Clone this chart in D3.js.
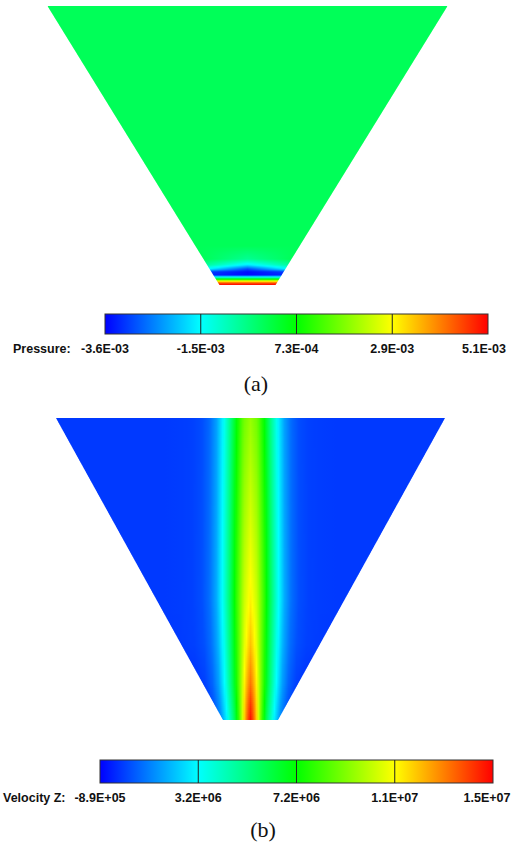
<!DOCTYPE html>
<html>
<head>
<meta charset="utf-8">
<script src="https://cdn.jsdelivr.net/npm/d3@7"></script>
<style>
  body { margin: 0; background: #fff; }
  .lbl { font-family: "Liberation Sans", Arial, sans-serif; font-weight: bold; font-size: 12.5px; fill: #111; }
  .cap { font-family: "Liberation Serif", "Times New Roman", serif; font-size: 22px; fill: #111; }
</style>
</head>
<body>
<script>
// colour map shared by both contour plots (blue -> cyan -> green -> yellow -> red)
const rainbow = ["#0000ff", "#00ffff", "#00ff00", "#ffff00", "#ff0000"]

// (a) pressure
const pressureRange = [-3.6e-3, 5.1e-3]
const pressureTickLabels = ["-3.6E-03", "-1.5E-03", "7.3E-04", "2.9E-03", "5.1E-03"]
// distance above the outlet (fraction of cone height) and pressure there, at wall and on axis
const pressureDepth = [0, 0.007, 0.014, 0.021, 0.029, 0.036, 0.047, 0.057, 0.072, 0.093, 0.14, 1]
const pressureWall = [5.1e-3, 4.4e-3, 2.9e-3, 7e-4, -1.5e-3, -3.3e-3, -3.1e-3, -1.6e-3, -0.6e-3, 0, 0, 0]
const pressureAxis = [5.1e-3, 4.4e-3, 2.9e-3, 7e-4, -1.5e-3, -3.5e-3, -3.5e-3, -3.0e-3, -1.6e-3, -0.5e-3, 0, 0]

// (b) axial velocity
const velocityRange = [-8.9e5, 1.5e7]
const velocityTickLabels = ["-8.9E+05", "3.2E+06", "7.2E+06", "1.1E+07", "1.5E+07"]
// radial position (fraction of top radius) and normalised jet profile
const jetRadius = [0, 0.035, 0.07, 0.105, 0.14, 0.175, 0.21, 0.25, 0.3, 0.4, 1]
const jetShape = [1, 0.93, 0.75, 0.52, 0.32, 0.17, 0.08, 0.03, 0.01, 0, 0]
// narrow fast core on the axis
const coreRadius = [0, 0.015, 0.03, 0.045, 0.06, 0.08, 1]
const coreShape = [1, 0.85, 0.55, 0.28, 0.1, 0, 0]
// height above outlet (fraction) -> jet velocity, core velocity, width factor, background
const jetHeight = [0, 0.05, 0.12, 0.25, 0.4, 0.6, 0.8, 1]
const jetBase = [1.0e7, 1.02e7, 1.05e7, 1.05e7, 1.05e7, 1.02e7, 9.8e6, 9.4e6]
const jetPeak = [1.48e7, 1.42e7, 1.32e7, 1.2e7, 1.12e7, 1.06e7, 1.0e7, 9.4e6]
const jetWidth = [0.88, 0.9, 0.93, 0.96, 1, 1, 1, 1]
const jetBackground = [-6e5, -4e5, -2e5, 0, 0, 0, 0, 0]

const width = 512, height = 845

const svg = d3.select('body').append('svg')
    .attr('width', width)
    .attr('height', height)
const defs = svg.append('defs')

function colorScale(range) {
    const step = (range[1] - range[0]) / 4
    return d3.scaleLinear()
        .domain(d3.range(5).map(i => range[0] + i * step))
        .range(rainbow)
        .clamp(true)
}

// pressure field: value at height z (0 = outlet), blending axis -> wall profile
const pWall = d3.scaleLinear().domain(pressureDepth).range(pressureWall).clamp(true)
const pAxis = d3.scaleLinear().domain(pressureDepth).range(pressureAxis).clamp(true)
function pressureAt(z, off, hw, hwTop) {
    const rel = Math.min(1, Math.abs(off) / hw)
    return pAxis(z) + (pWall(z) - pAxis(z)) * rel
}

// velocity field
const vShape = d3.scaleLinear().domain(jetRadius).range(jetShape).clamp(true)
const vCore = d3.scaleLinear().domain(coreRadius).range(coreShape).clamp(true)
const vBase = d3.scaleLinear().domain(jetHeight).range(jetBase).clamp(true)
const vPeak = d3.scaleLinear().domain(jetHeight).range(jetPeak).clamp(true)
const vWidth = d3.scaleLinear().domain(jetHeight).range(jetWidth).clamp(true)
const vBack = d3.scaleLinear().domain(jetHeight).range(jetBackground).clamp(true)
function velocityAt(z, off, hw, hwTop) {
    const r = Math.abs(off) / hwTop
    return vBack(z) + (vBase(z) - vBack(z)) * vShape(r / vWidth(z))
        + (vPeak(z) - vBase(z)) * vCore(r)
}

const panels = [
    { id: 'pres', top: 6, bottom: 285, cx: 247.5, hwTop: 200, hwBottom: 28, rowH: 1,
      field: pressureAt, range: pressureRange, ticks: pressureTickLabels,
      samples: hw => d3.range(-4, 5).map(i => i / 4 * hw),
      bar: { x0: 105, x1: 488, y: 314, h: 20 }, labelY: 353, title: 'Pressure:', titleX: 13,
      lastLabelX: 484, caption: '(a)', capX: 256, capY: 391 },
    { id: 'vel', top: 418, bottom: 720, cx: 250.5, hwTop: 194.5, hwBottom: 27.5, rowH: 2,
      field: velocityAt, range: velocityRange, ticks: velocityTickLabels,
      samples: hw => {
          const coarse = d3.range(70, hw, 16)
          const fine = d3.range(-70, 70.01, 2)
          return [-hw, ...coarse.map(d => -d).reverse(), ...fine, ...coarse, hw]
              .filter(d => Math.abs(d) <= hw)
      },
      bar: { x0: 100, x1: 493, y: 760, h: 23 }, labelY: 802, title: 'Velocity Z:', titleX: 3,
      lastLabelX: 487, caption: '(b)', capX: 263, capY: 837 }
]

panels.forEach(p => {
    const color = colorScale(p.range)
    const zScale = d3.scaleLinear().domain([0, 1]).range([p.bottom, p.top])
    const hwScale = d3.scaleLinear().domain([p.top, p.bottom]).range([p.hwTop, p.hwBottom])
    const xOff = d3.scaleLinear().domain([-p.hwTop, p.hwTop]).range([0, 1])

    // one horizontal strip per row, coloured with a gradient sampled from the field
    const rows = d3.range(p.top, p.bottom, p.rowH).map((y, i) => {
        const yc = y + p.rowH / 2
        const z = zScale.invert(yc)
        const hw = hwScale(yc)
        const stops = p.samples(hw).map(off => ({
            o: xOff(off),
            c: color(p.field(z, off, hw, p.hwTop))
        }))
        return { id: p.id + '-row-' + i, y: y, stops: stops }
    })

    defs.append('clipPath').attr('id', p.id + '-clip')
        .append('polygon')
        .attr('points', [
            [p.cx - p.hwTop, p.top], [p.cx + p.hwTop, p.top],
            [p.cx + p.hwBottom, p.bottom], [p.cx - p.hwBottom, p.bottom]
        ].join(' '))

    defs.selectAll('.grad-' + p.id).data(rows).join('linearGradient')
        .attr('class', 'grad-' + p.id)
        .attr('id', d => d.id)
        .attr('gradientUnits', 'userSpaceOnUse')
        .attr('x1', p.cx - p.hwTop).attr('x2', p.cx + p.hwTop)
        .attr('y1', 0).attr('y2', 0)
        .selectAll('stop').data(d => d.stops).join('stop')
            .attr('offset', d => d.o)
            .attr('stop-color', d => d.c)

    svg.append('g')
        .attr('clip-path', 'url(#' + p.id + '-clip)')
        .selectAll('rect').data(rows).join('rect')
            .attr('x', p.cx - p.hwTop)
            .attr('y', d => d.y)
            .attr('width', 2 * p.hwTop)
            .attr('height', p.rowH + 0.3)
            .attr('fill', d => 'url(#' + d.id + ')')

    // colour bar
    const barGrad = defs.append('linearGradient').attr('id', p.id + '-bar')
    barGrad.selectAll('stop').data(rainbow).join('stop')
        .attr('offset', (d, i) => i / 4)
        .attr('stop-color', d => d)

    const tickX = d3.scalePoint().domain(p.ticks).range([p.bar.x0, p.bar.x1])

    svg.append('rect')
        .attr('x', p.bar.x0).attr('y', p.bar.y)
        .attr('width', p.bar.x1 - p.bar.x0).attr('height', p.bar.h)
        .attr('fill', 'url(#' + p.id + '-bar)')
        .attr('stroke', '#333').attr('stroke-width', 1)

    svg.selectAll('.div-' + p.id).data(p.ticks.slice(1, -1)).join('line')
        .attr('class', 'div-' + p.id)
        .attr('x1', d => tickX(d)).attr('x2', d => tickX(d))
        .attr('y1', p.bar.y).attr('y2', p.bar.y + p.bar.h)
        .attr('stroke', '#222').attr('stroke-width', 1)

    // last label is pulled in a little so it stays on the page
    const last = p.ticks[p.ticks.length - 1]
    svg.selectAll('.tick-' + p.id).data(p.ticks).join('text')
        .attr('class', 'lbl tick-' + p.id)
        .attr('x', d => d === last ? p.lastLabelX : tickX(d))
        .attr('y', p.labelY)
        .attr('text-anchor', 'middle')
        .text(d => d)

    svg.append('text').attr('class', 'lbl')
        .attr('x', p.titleX).attr('y', p.labelY)
        .text(p.title)

    svg.append('text').attr('class', 'cap')
        .attr('x', p.capX).attr('y', p.capY)
        .attr('text-anchor', 'middle')
        .text(p.caption)
})
</script>
</body>
</html>
